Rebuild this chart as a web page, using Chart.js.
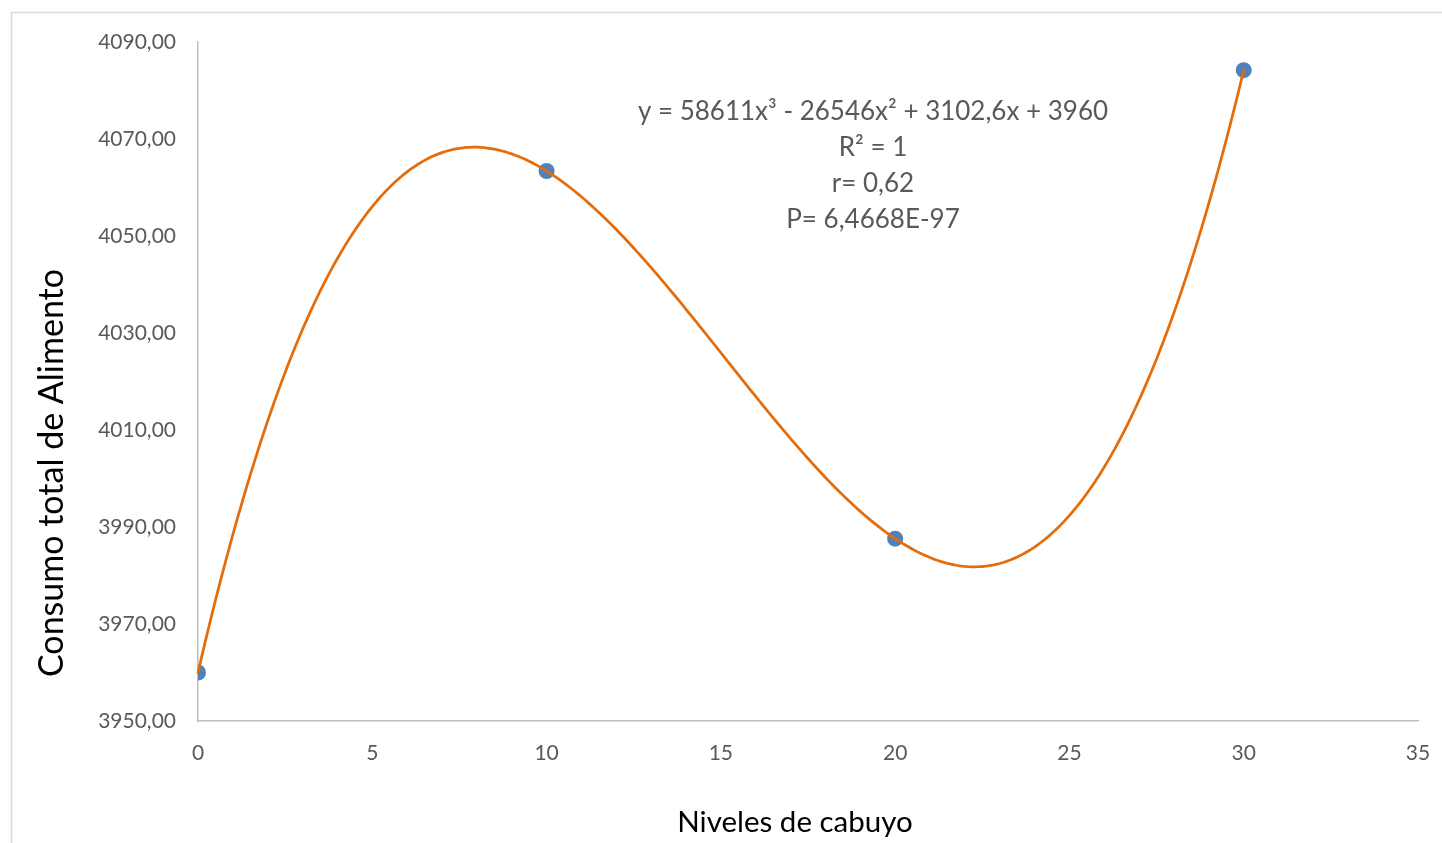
<!DOCTYPE html>
<html>
<head>
<meta charset="utf-8">
<script src="https://cdn.jsdelivr.net/npm/chart.js@4"></script>
<style>
  html, body { margin: 0; padding: 0; background: #fff; }
  #wrap { width: 1442px; height: 843px; }
</style>
</head>
<body>
<div id="wrap"><canvas id="myChart" width="1442" height="843"></canvas></div>
<script>
// data
const nivelesCabuyo = [0, 10, 20, 30];
const consumoAlimento = [3960.0, 4063.4, 3987.6, 4084.2];

const yTickValues = [3950, 3970, 3990, 4010, 4030, 4050, 4070, 4090];
const xTickValues = [0, 5, 10, 15, 20, 25, 30, 35];

const equationLines = [
  'y = 58611x\u00b3 - 26546x\u00b2 + 3102,6x + 3960',
  'R\u00b2 = 1',
  'r= 0,62',
  'P= 6,4668E-97',
];

const yTitle = 'Consumo total de Alimento';
const xTitle = 'Niveles de cabuyo';

const FONT = 'Lato, "Open Sans", sans-serif';

// least squares polynomial fit (like the spreadsheet trendline)
function polyFit(xs, ys, degree) {
  const n = degree + 1;
  const A = [];
  for (let r = 0; r < n; r++) {
    const row = [];
    for (let c = 0; c < n; c++) {
      row.push(xs.reduce((s, x) => s + Math.pow(x, r + c), 0));
    }
    row.push(xs.reduce((s, x, i) => s + ys[i] * Math.pow(x, r), 0));
    A.push(row);
  }
  for (let i = 0; i < n; i++) {
    let p = i;
    for (let k = i + 1; k < n; k++) if (Math.abs(A[k][i]) > Math.abs(A[p][i])) p = k;
    [A[i], A[p]] = [A[p], A[i]];
    for (let k = i + 1; k < n; k++) {
      const f = A[k][i] / A[i][i];
      for (let c = i; c <= n; c++) A[k][c] -= f * A[i][c];
    }
  }
  const coef = Array(n).fill(0);
  for (let i = n - 1; i >= 0; i--) {
    let s = A[i][n];
    for (let c = i + 1; c < n; c++) s -= A[i][c] * coef[c];
    coef[i] = s / A[i][i];
  }
  return coef;
}

const trendCoef = polyFit(nivelesCabuyo, consumoAlimento, 3);

const trendlinePlugin = {
  id: 'trendline',
  afterDatasetsDraw(chart) {
    const { ctx, scales } = chart;
    const x0 = Math.min(...nivelesCabuyo);
    const x1 = Math.max(...nivelesCabuyo);
    const steps = 300;
    ctx.save();
    ctx.beginPath();
    for (let i = 0; i <= steps; i++) {
      const x = x0 + (x1 - x0) * i / steps;
      const y = trendCoef.reduce((s, c, k) => s + c * Math.pow(x, k), 0);
      const px = scales.x.getPixelForValue(x);
      const py = scales.y.getPixelForValue(y);
      if (i === 0) ctx.moveTo(px, py); else ctx.lineTo(px, py);
    }
    ctx.strokeStyle = '#e46c0a';
    ctx.lineWidth = 2.75;
    ctx.lineJoin = 'round';
    ctx.lineCap = 'round';
    ctx.stroke();
    ctx.restore();
  },
};

const decorPlugin = {
  id: 'decor',
  beforeDraw(chart) {
    const { ctx } = chart;
    // outer chart frame
    ctx.save();
    ctx.strokeStyle = '#d9d9d9';
    ctx.lineWidth = 1.5;
    ctx.beginPath();
    ctx.moveTo(11.5, chart.height + 5);
    ctx.lineTo(11.5, 12.5);
    ctx.lineTo(chart.width + 5, 12.5);
    ctx.stroke();
    ctx.restore();
  },
  afterDraw(chart) {
    const { ctx } = chart;
    ctx.save();
    // axis titles
    ctx.fillStyle = '#000';
    ctx.textAlign = 'center';
    ctx.textBaseline = 'middle';
    ctx.font = '34px ' + FONT;
    ctx.translate(52, 473);
    ctx.rotate(-Math.PI / 2);
    ctx.fillText(yTitle, 0, 0);
    ctx.restore();

    ctx.save();
    ctx.fillStyle = '#000';
    ctx.textAlign = 'center';
    ctx.textBaseline = 'middle';
    ctx.font = '29.5px ' + FONT;
    ctx.fillText(xTitle, 795, 822);

    // trendline label
    ctx.fillStyle = '#595959';
    ctx.font = '26px ' + FONT;
    equationLines.forEach((line, i) => {
      ctx.fillText(line, 873, 112 + i * 36);
    });
    ctx.restore();
  },
};

const config = {
  type: 'scatter',
  data: {
    datasets: [{
      label: 'Consumo',
      data: nivelesCabuyo.map((x, i) => ({ x: x, y: consumoAlimento[i] })),
      backgroundColor: '#4f81bd',
      borderColor: '#4f81bd',
      borderWidth: 0,
      pointRadius: 8,
      pointHoverRadius: 8,
    }],
  },
  options: {
    responsive: false,
    animation: false,
    events: [],
    layout: { padding: { top: 42, right: 24, left: 0, bottom: 0 } },
    plugins: {
      legend: { display: false },
      tooltip: { enabled: false },
    },
    scales: {
      x: {
        type: 'linear',
        min: 0,
        max: 35,
        afterBuildTicks(scale) {
          scale.ticks = xTickValues.map(v => ({ value: v }));
        },
        afterFit(scale) {
          scale.height = 122;
          scale.paddingRight = 0;
          scale.paddingLeft = 0;
        },
        grid: { display: false, drawTicks: false },
        border: { color: '#bfbfbf', width: 1.5 },
        ticks: {
          padding: 20,
          color: '#595959',
          font: { family: FONT, size: 21 },
          callback: v => String(v),
        },
      },
      y: {
        type: 'linear',
        min: 3950,
        max: 4090,
        afterBuildTicks(scale) {
          scale.ticks = yTickValues.map(v => ({ value: v }));
        },
        afterFit(scale) { scale.width = 198; },
        grid: { display: false, drawTicks: false },
        border: { color: '#bfbfbf', width: 1.5 },
        ticks: {
          padding: 22,
          color: '#595959',
          font: { family: FONT, size: 21 },
          callback: v => v.toFixed(2).replace('.', ','),
        },
      },
    },
  },
  plugins: [decorPlugin, trendlinePlugin],
};

const myChart = new Chart(document.getElementById('myChart'), config);
</script>
</body>
</html>
